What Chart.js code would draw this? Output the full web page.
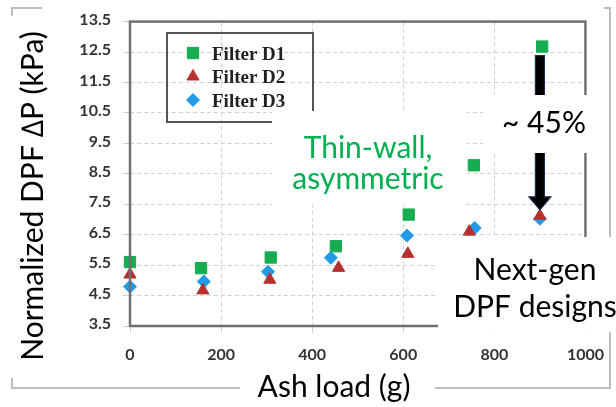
<!DOCTYPE html>
<html>
<head>
<meta charset="utf-8">
<script src="https://cdn.jsdelivr.net/npm/chart.js@4/dist/chart.umd.min.js"></script>
<style>
  html, body { margin: 0; padding: 0; background: #fff; overflow: hidden; }
  #wrap { position: relative; width: 616px; height: 407px; }
  canvas { display: block; }
</style>
</head>
<body>
<div id="wrap"><canvas id="c" width="616" height="407"></canvas></div>
<script>
// Ash load (g) and normalized pressure drop (kPa) for each filter
const seriesNames = ['Filter D1', 'Filter D2', 'Filter D3'];
const ashD1 = [0, 156, 309, 452, 612, 755, 905];
const dpD1  = [5.6, 5.4, 5.75, 6.12, 7.16, 8.78, 12.68];
const ashD2 = [0, 160, 307, 458, 610, 745, 900];
const dpD2  = [5.19, 4.67, 5.02, 5.41, 5.87, 6.6, 7.12];
const ashD3 = [0, 162, 303, 441, 608, 757, 900];
const dpD3  = [4.79, 4.96, 5.28, 5.74, 6.47, 6.72, 7.02];

// Axis ticks
const xTickLabels = ['0', '200', '400', '600', '800', '1000'];
const yTickLabels = ['3.5', '4.5', '5.5', '6.5', '7.5', '8.5', '9.5', '10.5', '11.5', '12.5', '13.5'];

// Annotation texts
const yTitle = 'Normalized DPF \u2206P (kPa)';
const xTitle = 'Ash load (g)';
const noteGreen = ['Thin-wall,', 'asymmetric'];
const notePct = '~ 45%';
const noteNext = ['Next-gen', 'DPF designs'];

const GREEN = '#15ad50', RED = '#b8302e', BLUE = '#1f9be8';
const SANS = 'Lato, "Open Sans", sans-serif';

const toPoints = (xs, ys) => xs.map((x, i) => ({ x: x, y: ys[i] }));

const styles = [
  { color: GREEN, pointStyle: 'rect', radius: 8 },
  { color: RED, pointStyle: 'triangle', radius: 7 },
  { color: BLUE, pointStyle: 'rectRot', radius: 6.5 }
];
const seriesData = [toPoints(ashD1, dpD1), toPoints(ashD2, dpD2), toPoints(ashD3, dpD3)];

function box(ctx, x, y, w, h) {
  ctx.save();
  ctx.fillStyle = '#fff';
  ctx.fillRect(x, y, w, h);
  ctx.restore();
}
function line(ctx, x1, y1, x2, y2) {
  ctx.beginPath(); ctx.moveTo(x1, y1); ctx.lineTo(x2, y2); ctx.stroke();
}

const decorations = {
  id: 'decorations',
  afterDraw(chart) {
    const ctx = chart.ctx;
    const a = chart.chartArea;
    const xs = chart.scales.x, ys = chart.scales.y;
    ctx.save();

    // plot frame
    ctx.strokeStyle = '#707070';
    ctx.lineWidth = 2.5;
    ctx.strokeRect(a.left, a.top, a.right - a.left, a.bottom - a.top);

    // top of the axis picture is cropped
    box(ctx, 50, 0, 80, 14);
    // right edge of the axis picture is cropped
    box(ctx, 608, 335, 8, 40);

    // legend box
    ctx.strokeStyle = '#555';
    ctx.lineWidth = 2;
    ctx.strokeRect(167, 33, 146, 89);
    ctx.font = 'bold 19px "Liberation Serif", "Times New Roman", serif';
    ctx.textBaseline = 'middle';
    ctx.textAlign = 'left';
    seriesNames.forEach((name, i) => {
      const cy = 53 + i * 23.5;
      const st = styles[i];
      ctx.fillStyle = st.color;
      ctx.strokeStyle = st.color;
      ctx.lineWidth = 1;
      Chart.helpers.drawPoint(ctx, { pointStyle: st.pointStyle, radius: st.radius, rotation: 0, borderWidth: 1 }, 193, cy);
      ctx.fillStyle = '#222';
      ctx.fillText(name, 212, cy + 2);
    });

    // reduction arrow between D1 and D2 at the highest ash load
    const ax = xs.getPixelForValue(ashD2[6]);
    const yTop = ys.getPixelForValue(dpD1[6]) + 9;
    const yTip = ys.getPixelForValue(dpD2[6]) - 6;
    const headH = 13, headW = 11, shaftW = 4.5;
    ctx.beginPath();
    ctx.moveTo(ax - shaftW, yTop);
    ctx.lineTo(ax + shaftW, yTop);
    ctx.lineTo(ax + shaftW, yTip - headH);
    ctx.lineTo(ax + headW, yTip - headH);
    ctx.lineTo(ax, yTip);
    ctx.lineTo(ax - headW, yTip - headH);
    ctx.lineTo(ax - shaftW, yTip - headH);
    ctx.closePath();
    ctx.fillStyle = '#000';
    ctx.fill();
    ctx.strokeStyle = '#1c2a4a';
    ctx.lineWidth = 1.2;
    ctx.stroke();

    // outer frame
    ctx.strokeStyle = '#bdbdbd';
    ctx.lineWidth = 2;
    line(ctx, 12, 8, 42, 8);
    line(ctx, 12, 7, 12, 16);
    line(ctx, 604, 8, 610, 8);
    line(ctx, 610, 7, 610, 388);
    line(ctx, 12, 378, 12, 388);
    line(ctx, 11, 388, 611, 388);

    // text boxes
    ctx.textAlign = 'center';
    ctx.textBaseline = 'alphabetic';
    ctx.font = '30px ' + SANS;

    box(ctx, 272, 111, 195, 94);
    ctx.fillStyle = '#00b050';
    ctx.fillText(noteGreen[0], 368, 158);
    ctx.fillText(noteGreen[1], 368, 189);

    ctx.fillStyle = '#000';
    box(ctx, 483, 95, 122, 58);
    ctx.fillText(notePct, 544, 133);

    box(ctx, 438, 237, 178, 95);
    ctx.fillText(noteNext[0], 535, 280);
    ctx.fillText(noteNext[1], 535, 317);

    box(ctx, 240, 372, 195, 35);
    ctx.fillText(xTitle, 334, 397);

    ctx.translate(43, 196);
    ctx.rotate(-Math.PI / 2);
    ctx.fillText(yTitle, 0, 0);

    ctx.restore();
  }
};

const gridColor = '#d2d2d2';
const tickFont = { family: SANS, weight: 'bold', size: 16 };

new Chart(document.getElementById('c'), {
  type: 'scatter',
  data: {
    datasets: seriesNames.map((name, i) => ({
      label: name,
      data: seriesData[i],
      pointStyle: styles[i].pointStyle,
      pointRadius: styles[i].radius,
      pointBackgroundColor: styles[i].color,
      pointBorderColor: styles[i].color,
      pointBorderWidth: 1,
      showLine: false,
      clip: false
    }))
  },
  options: {
    responsive: false,
    animation: false,
    events: [],
    layout: { padding: { left: 0, top: 16, right: 24, bottom: 0 } },
    plugins: { legend: { display: false }, tooltip: { enabled: false } },
    scales: {
      x: {
        type: 'linear',
        min: 0, max: 1000,
        afterBuildTicks: s => { s.ticks = xTickLabels.map(t => ({ value: parseFloat(t) })); },
        afterFit: s => { s.height = 81; },
        ticks: { font: tickFont, color: '#333', padding: 12, maxRotation: 0,
                 callback: (v, i) => xTickLabels[i] },
        grid: { color: gridColor, lineWidth: 1, tickLength: 7, tickColor: gridColor },
        border: { display: false, dash: [4, 3] }
      },
      y: {
        type: 'linear',
        min: 3.5, max: 13.5,
        afterBuildTicks: s => { s.ticks = yTickLabels.map(t => ({ value: parseFloat(t) })); },
        afterFit: s => { s.width = 130; },
        ticks: { font: tickFont, color: '#333', padding: 12, labelOffset: -2,
                 callback: (v, i) => yTickLabels[i] },
        grid: { color: gridColor, lineWidth: 1, tickLength: 7, tickColor: gridColor },
        border: { display: false, dash: [4, 3] }
      }
    }
  },
  plugins: [decorations]
});
</script>
</body>
</html>
